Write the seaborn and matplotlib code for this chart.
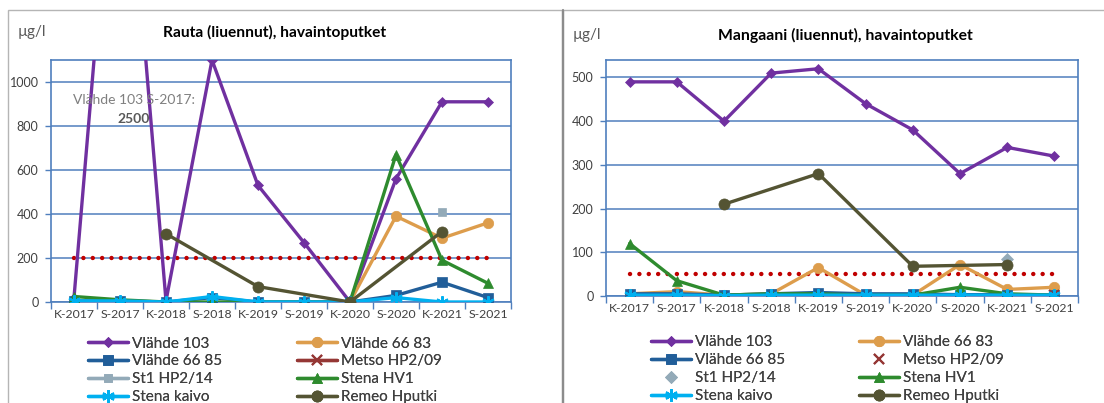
import numpy as np
import pandas as pd
import matplotlib
matplotlib.use("Agg")
import matplotlib.pyplot as plt
from matplotlib.lines import Line2D
from matplotlib.patches import Rectangle
import seaborn as sns

# ---- data -------------------------------------------------------------
periods = ["K-2017", "S-2017", "K-2018", "S-2018", "K-2019",
           "S-2019", "K-2020", "S-2020", "K-2021", "S-2021"]
nan = np.nan

series_names = ["Vlähde 103", "Vlähde 66 83", "Vlähde 66 85", "Metso HP2/09",
                "St1 HP2/14", "Stena HV1", "Stena kaivo", "Remeo Hputki"]

# Iron (dissolved), µg/l
fe_vlahde_103 = [20, 2500, 5, 1100, 530, 270, 0, 560, 910, 910]
fe_vlahde_6683 = [nan, nan, nan, nan, nan, nan, 0, 390, 290, 360]
fe_vlahde_6685 = [5, 5, 0, 20, 0, 0, 0, 30, 90, 20]
fe_metso = [nan] * 10
fe_st1 = [nan, nan, nan, nan, nan, nan, nan, nan, 410, nan]
fe_stena_hv1 = [25, 10, 0, 0, 0, 0, 0, 670, 190, 85]
fe_stena_kaivo = [5, 5, 0, 25, 0, 0, 0, 20, 0, 0]
fe_remeo = [nan, nan, 310, nan, 70, nan, 0, nan, 320, nan]
fe_limit = 200

# Manganese (dissolved), µg/l
mn_vlahde_103 = [490, 490, 400, 510, 520, 440, 380, 280, 340, 320]
mn_vlahde_6683 = [5, 10, 2, 5, 65, 2, 2, 72, 15, 20]
mn_vlahde_6685 = [5, 5, 2, 5, 8, 5, 5, 3, 3, 2]
mn_metso = [nan, nan, nan, nan, nan, nan, nan, nan, nan, 2]
mn_st1 = [nan, nan, nan, nan, nan, nan, nan, nan, 85, nan]
mn_stena_hv1 = [120, 35, 2, 5, 5, 2, 2, 20, 5, 2]
mn_stena_kaivo = [2, 2, 1, 2, 2, 2, 2, 2, 2, 2]
mn_remeo = [nan, nan, 210, nan, 280, nan, 68, nan, 72, nan]
mn_limit = 50

fe_values = [fe_vlahde_103, fe_vlahde_6683, fe_vlahde_6685, fe_metso,
             fe_st1, fe_stena_hv1, fe_stena_kaivo, fe_remeo]
mn_values = [mn_vlahde_103, mn_vlahde_6683, mn_vlahde_6685, mn_metso,
             mn_st1, mn_stena_hv1, mn_stena_kaivo, mn_remeo]

# ---- styling ----------------------------------------------------------
colors = {
    "Vlähde 103": "#7030a0",
    "Vlähde 66 83": "#dd9d4c",
    "Vlähde 66 85": "#215e99",
    "Metso HP2/09": "#953735",
    "St1 HP2/14": "#93aab8",
    "Stena HV1": "#2e8b2e",
    "Stena kaivo": "#00b0f0",
    "Remeo Hputki": "#545433",
}
asterisk = (6, 2, 0)
fe_markers = {"Vlähde 103": "D", "Vlähde 66 83": "o", "Vlähde 66 85": "s",
              "Metso HP2/09": "x", "St1 HP2/14": "s", "Stena HV1": "^",
              "Stena kaivo": asterisk, "Remeo Hputki": "o"}
mn_markers = dict(fe_markers)
mn_markers["St1 HP2/14"] = "D"
marker_sizes = {"Vlähde 103": 5, "Vlähde 66 83": 7.5, "Vlähde 66 85": 7,
                "Metso HP2/09": 7, "St1 HP2/14": 6, "Stena HV1": 7,
                "Stena kaivo": 9, "Remeo Hputki": 8}
fe_no_line = set()
mn_no_line = {"Metso HP2/09", "St1 HP2/14"}

BLUE = "#4f7fbd"
TEXT = "#404040"
W, H = 1104, 403

sns.set_theme(style="white")
plt.rcParams["font.family"] = ["Lato", "DejaVu Sans"]

fig = plt.figure(figsize=(W / 100, H / 100), dpi=100)

# outer chart frames
fig.patches.append(Rectangle((8 / W, -0.1), (562 - 8) / W, 1.1 - 10 / H,
                             transform=fig.transFigure, fill=False,
                             edgecolor="#b5b5b5", linewidth=1.0))
fig.patches.append(Rectangle((563 / W, -0.1), 0.6, 1.1 - 10 / H,
                             transform=fig.transFigure, fill=False,
                             edgecolor="#b5b5b5", linewidth=1.0))
fig.add_artist(Line2D([562.5 / W, 562.5 / W], [0, 1 - 10 / H],
                      transform=fig.transFigure, color="#8c8c8c", linewidth=1.6))


def long_frame(values):
    rows = []
    for name, vals in zip(series_names, values):
        for i, v in enumerate(vals):
            if not np.isnan(v):
                rows.append({"series": name, "pos": i, "value": v})
    return pd.DataFrame(rows)


def edge_width(m):
    return 1.5 if m in ("x", asterisk) else 0.5


def draw_panel(ax, values, limit, markers, no_line, ymax, yticks):
    df = long_frame(values)
    for name in series_names:
        sub = df[df["series"] == name]
        if sub.empty:
            continue
        lw = 0 if name in no_line else 2.4
        sns.lineplot(data=sub, x="pos", y="value", ax=ax, color=colors[name],
                     linewidth=lw, marker=markers[name],
                     markersize=marker_sizes[name],
                     markeredgecolor=colors[name],
                     markeredgewidth=edge_width(markers[name]),
                     label="_nolegend_", zorder=3)
    lim_df = pd.DataFrame({"pos": np.arange(len(periods)),
                           "value": [limit] * len(periods)})
    sns.lineplot(data=lim_df, x="pos", y="value", ax=ax, color="#c00000",
                 linewidth=3.2, linestyle=(0, (0.01, 2.1)),
                 dash_capstyle="round", zorder=2.5, label="_nolegend_")

    ax.set_xlim(-0.5, len(periods) - 0.5)
    ax.set_ylim(0, ymax)
    ax.set_yticks(yticks)
    ax.set_yticklabels([str(t) for t in yticks], fontsize=9, color=TEXT)
    ax.set_xticks(np.arange(len(periods)))
    ax.set_xticklabels(periods, fontsize=8.8, color=TEXT)
    ax.set_xticks(np.arange(len(periods) + 1) - 0.5, minor=True)
    ax.tick_params(axis="x", which="major", length=0, pad=5)
    ax.tick_params(axis="x", which="minor", length=5, width=1.0, color=BLUE,
                   direction="out", bottom=True)
    ax.tick_params(axis="y", which="major", length=4, width=1.0, color=BLUE,
                   direction="out", left=True, pad=5)
    ax.set_xlabel("")
    ax.set_ylabel("")
    ax.grid(False)
    for t in yticks:
        ax.axhline(t, color=BLUE, linewidth=1.1, zorder=1)
    for sp in ax.spines.values():
        sp.set_color(BLUE)
        sp.set_linewidth(1.2)
        sp.set_visible(True)


def legend_handles(markers, no_line):
    hs = []
    for name in series_names:
        lw = 0 if name in no_line else 2.4
        hs.append(Line2D([], [], color=colors[name], linewidth=lw,
                         marker=markers[name], markersize=marker_sizes[name],
                         markeredgecolor=colors[name],
                         markeredgewidth=edge_width(markers[name])))
    return hs


def place_legends(handles, x_cols, y_top):
    # two columns, filled row by row
    columns = [[0, 2, 4, 6], [1, 3, 5, 7]]
    for xc, idx in zip(x_cols, columns):
        leg = fig.legend([handles[i] for i in idx], [series_names[i] for i in idx],
                         loc="upper left", bbox_to_anchor=(xc / W, 1 - y_top / H),
                         ncol=1, frameon=False, fontsize=11, handlelength=2.6,
                         handletextpad=0.3, labelspacing=0.25, borderpad=0,
                         borderaxespad=0, labelcolor=TEXT)
        fig.add_artist(leg)


# ---- left panel: iron ---------------------------------------------------
ax1 = fig.add_axes([51 / W, 1 - 302 / H, 460 / W, 242 / H])
draw_panel(ax1, fe_values, fe_limit, fe_markers, fe_no_line,
           1100, [0, 200, 400, 600, 800, 1000])
fig.text(275 / W, 1 - 32 / H, "Rauta (liuennut), havaintoputket",
         ha="center", va="center", fontsize=11.2, fontweight="bold", color="black")
fig.text(18 / W, 1 - 32 / H, "µg/l", ha="left", va="center",
         fontsize=11, color="#595959")
ax1.text((73 - 51) / 460, 1 - (100 - 60) / 242, "Vlähde 103 S-2017:",
         transform=ax1.transAxes, ha="left", va="center", fontsize=10,
         color="#7f7f7f")
ax1.text((134 - 51) / 460, 1 - (119 - 60) / 242, "2500", transform=ax1.transAxes,
         ha="center", va="center", fontsize=10, fontweight="bold", color="#595959")
place_legends(legend_handles(fe_markers, fe_no_line), [88, 297], 336.5)

# ---- right panel: manganese ----------------------------------------------
ax2 = fig.add_axes([606 / W, 1 - 296 / H, 472 / W, 236 / H])
draw_panel(ax2, mn_values, mn_limit, mn_markers, mn_no_line,
           540, [0, 100, 200, 300, 400, 500])
fig.text(845 / W, 1 - 35 / H, "Mangaani (liuennut), havaintoputket",
         ha="center", va="center", fontsize=11.3, fontweight="bold", color="black")
fig.text(573 / W, 1 - 35 / H, "µg/l", ha="left", va="center",
         fontsize=11, color="#595959")
place_legends(legend_handles(mn_markers, mn_no_line), [651, 859], 335.5)

fig.savefig("out.png", dpi=100)
